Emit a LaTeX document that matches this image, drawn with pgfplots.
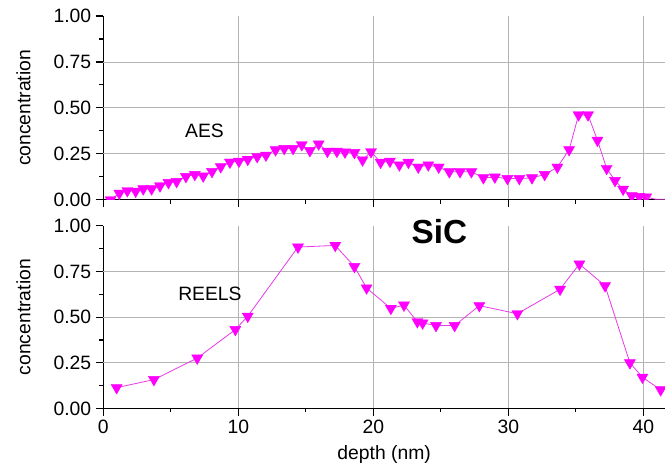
\documentclass[border=0pt]{standalone}
\usepackage{pgfplots}
\pgfplotsset{compat=1.18}
\usepackage{fontspec}
\setmainfont{Liberation Sans}
\definecolor{mag}{HTML}{FF00FF}
\definecolor{magline}{HTML}{E838E8}
\definecolor{gridgray}{HTML}{B4B4B4}
\pgfplotsset{
  every axis/.append style={
    scale only axis, width=421.5pt,
    xmin=0, xmax=41.6, ymin=0, ymax=1,
    axis x line*=bottom, axis y line*=left,
    axis line style={line width=0.8pt, black},
    tick align=outside,
    major tick length=5.5pt, minor tick length=3pt,
    every tick/.style={black, line width=0.8pt},
    xtick={0,10,20,30,40}, minor x tick num=1,
    ytick={0,0.25,0.5,0.75,1}, minor y tick num=1,
    yticklabel style={/pgf/number format/.cd, fixed, fixed zerofill, precision=2},
    /pgf/number format/assume math mode=true,
    ticklabel style={font=\fontsize{14.5pt}{16pt}\selectfont},
    label style={font=\fontsize{14.5pt}{16pt}\selectfont},
    xmajorgrids, major grid style={gridgray, line width=0.7pt},
    extra y ticks={0.25,0.5,0.75}, extra y tick labels={},
    extra y tick style={ymajorgrids=true, major tick length=0pt, xmajorgrids=false},
    ylabel={concentration},
    ylabel style={at={(ticklabel cs:0.5)}, yshift=5pt},
    clip mode=individual, clip marker paths=true,
  },
  dat/.style={magline, line width=0.6pt, mark=triangle*, mark size=4.8pt,
    mark options={rotate=180, fill=mag, draw=mag, line width=0.3pt}},
}
\begin{document}
\begin{tikzpicture}
\begin{axis}[name=bot, at={(0,0)}, anchor=south west, height=137pt,
  xlabel={depth (nm)}, xlabel style={yshift=-2pt}]
\addplot[dat] coordinates {
(0.99,0.114) (3.75,0.158) (6.96,0.276) (9.78,0.432) (10.7,0.505)
(14.42,0.884) (17.18,0.893) (18.6,0.777) (19.5,0.66) (21.3,0.548)
(22.27,0.566) (23.26,0.475) (23.65,0.468) (24.64,0.454) (26.02,0.454)
(27.85,0.563) (30.67,0.519) (33.83,0.653) (35.26,0.791) (37.16,0.672)
(39.0,0.25) (39.93,0.171) (41.28,0.102)
};
\node[font=\fontsize{25pt}{28pt}\selectfont\bfseries] at (axis cs:24.9,0.97) {SiC};
\node[font=\fontsize{14.5pt}{16pt}\selectfont] at (axis cs:7.9,0.63) {REELS};
\end{axis}
\begin{axis}[name=top, at={(0,156.5pt)}, anchor=south west, height=138pt,
  xticklabels={}]
\addplot[dat] coordinates {
(0.54,0.00) (1.19,0.036) (1.78,0.05) (2.40,0.047) (2.96,0.06)
(3.58,0.06) (4.2,0.076) (4.83,0.094) (5.43,0.10) (6.12,0.127)
(6.78,0.138) (7.4,0.13) (8.05,0.154) (8.7,0.18) (9.38,0.205)
(10.05,0.21) (10.7,0.22) (11.4,0.235) (12.05,0.243) (12.76,0.272)
(13.4,0.279) (14.06,0.279) (14.7,0.30) (15.3,0.268) (15.95,0.304)
(16.6,0.264) (17.3,0.264) (17.9,0.26) (18.6,0.257) (19.2,0.217)
(19.83,0.262) (20.54,0.204) (21.23,0.21) (21.93,0.19) (22.6,0.204)
(23.33,0.178) (24.07,0.19) (24.84,0.178) (25.63,0.153) (26.42,0.153)
(27.26,0.153) (28.15,0.12) (29.0,0.124) (29.93,0.116) (30.81,0.116)
(31.75,0.12) (32.69,0.138) (33.63,0.178) (34.5,0.273) (35.2,0.462)
(35.9,0.462) (36.6,0.324) (37.28,0.171) (37.9,0.105) (38.5,0.058)
(39.14,0.022) (39.7,0.018) (40.2,0.015)
};
\addplot[magline, line width=0.6pt] coordinates {(40.2,0.015) (40.9,0.004) (41.6,0.004)};
\node[font=\fontsize{14.5pt}{16pt}\selectfont] at (axis cs:7.5,0.375) {AES};
\end{axis}
\pgfresetboundingbox
\useasboundingbox (-77.5pt,-50.25pt) rectangle (421.5pt,306.5pt);
\end{tikzpicture}
\end{document}
